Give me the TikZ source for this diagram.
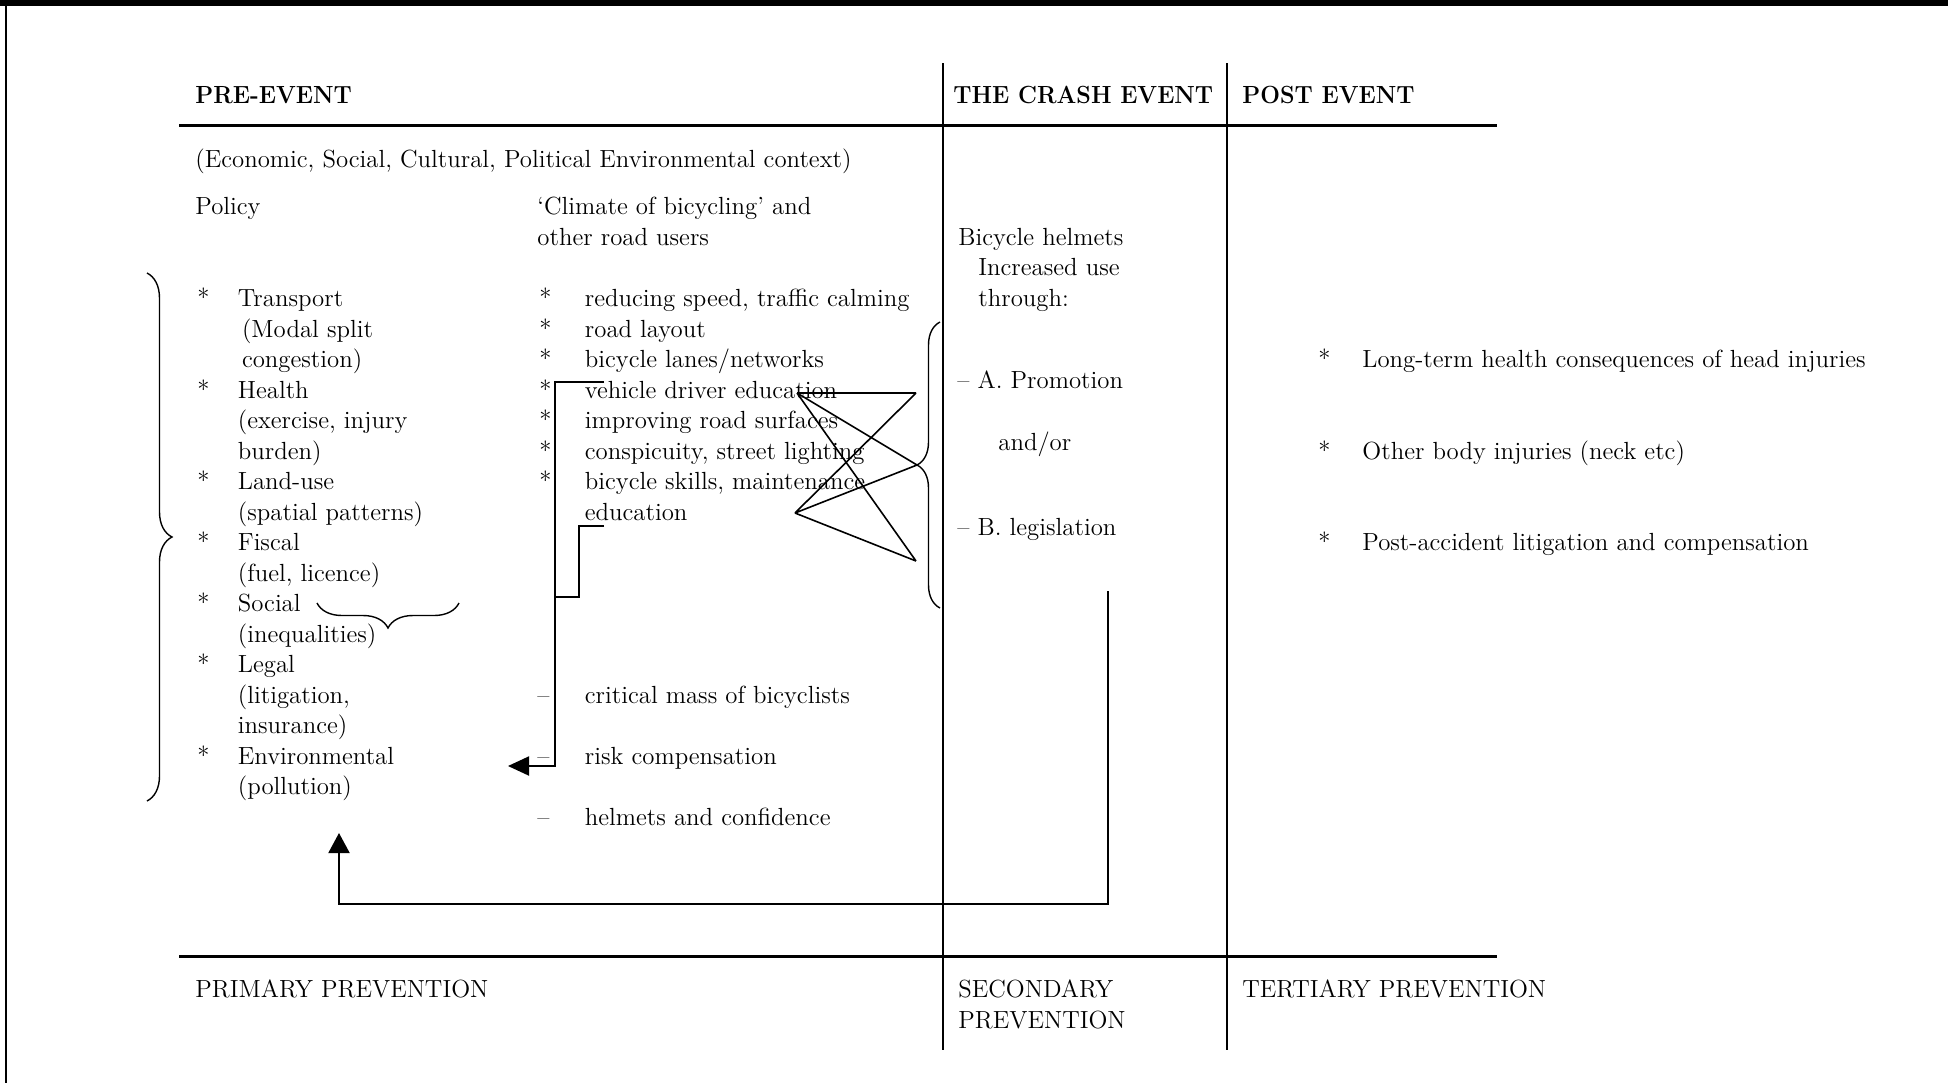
\documentclass[tikz,border=0pt]{standalone}
\usepackage{fontspec}
\usepackage{graphicx}
\usetikzlibrary{arrows.meta,decorations.pathreplacing}
\newcommand\myfont{\fontsize{12.4pt}{15.25pt}\selectfont}
\newcommand\myhdr[1]{\scalebox{0.94}[1]{\bfseries #1}}
\begin{document}
\begin{tikzpicture}[x=0.5pt,y=-0.5pt,
  txt/.style={anchor=base west,inner sep=0pt,font=\myfont},
  rulebold/.style={line width=1.5pt},
  colline/.style={line width=1pt},
  conn/.style={line width=1pt},
  xline/.style={line width=0.8pt},
  brc/.style={line width=0.7pt,decorate,decoration={brace,amplitude=#1}},
]
\useasboundingbox (0,0) rectangle (1948,1083);
% frame
\fill (0,0) rectangle (1948,5.5);
\draw[line width=0.8pt] (6,0) -- (6,1083);
% table rules
\coordinate (htl) at (179,125); \coordinate (htr) at (1497,125);
\coordinate (hbl) at (179,956); \coordinate (hbr) at (1497,956);
\coordinate (v1t) at (943,63);  \coordinate (v1b) at (943,1050);
\coordinate (v2t) at (1227,63); \coordinate (v2b) at (1227,1050);
\draw[rulebold] (htl) -- (htr);
\draw[rulebold] (hbl) -- (hbr);
\draw[colline] (v1t) -- (v1b);
\draw[colline] (v2t) -- (v2b);
% headers
\node[txt] (hpre) at (195,103.5) {\myhdr{PRE-EVENT}};
\node[txt] (hcrash) at (953,103.5) {\myhdr{THE CRASH EVENT}};
\node[txt] (hpost) at (1242,103.5) {\myhdr{POST EVENT}};
% pre-event
\node[txt] (context) at (195,167) {(Economic, Social, Cultural, Political Environmental context)};
\node[txt] (policy) at (195,214) {Policy};
\node[txt] (climA) at (537,214) {`Climate of bicycling' and};
\node[txt] (climB) at (537,245) {other road users};
% policy list
\foreach \t [count=\i from 0] in {{Transport},{\,(Modal split},{\,congestion)},{Health},{(exercise, injury},{burden)},{Land-use},{(spatial patterns)},{Fiscal},{(fuel, licence)},{Social},{(inequalities)},{Legal},{(litigation,},{insurance)},{Environmental},{(pollution)}}
  \node[txt] (pol\i) at (237.5,{306.5+30.5*\i}) {\t};
\foreach \i in {0,3,6,8,10,12,15}
  \node[txt] (past\i) at (197,{306.5+30.5*\i}) {*};
% climate list
\foreach \t [count=\i from 0] in {{reducing speed, traffic calming},{road layout},{bicycle lanes/networks},{vehicle driver education},{improving road surfaces},{conspicuity, street lighting},{bicycle skills, maintenance},{education}}
  \node[txt] (cl\i) at (584.5,{306.5+30.5*\i}) {\t};
\foreach \i in {0,...,6}
  \node[txt] (cast\i) at (539,{306.5+30.5*\i}) {*};
\node[txt] (crit) at (584.5,{306.5+30.5*13}) {critical mass of bicyclists};
\node[txt] (risk) at (584.5,{306.5+30.5*15}) {risk compensation};
\node[txt] (helm) at (584.5,{306.5+30.5*17}) {helmets and confidence};
\foreach \i in {13,15,17}
  \node[txt] (dash\i) at (537,{306.5+30.5*\i}) {--};
% crash event
\node[txt] (bh1) at (958,245) {Bicycle helmets};
\node[txt] (bh2) at (978,275.5) {Increased use};
\node[txt] (bh3) at (978,306.5) {through:};
\node[txt] (promo) at (957,388) {-- A. Promotion};
\node[txt] (andor) at (998,450) {and/or};
\node[txt] (legis) at (957,535) {-- B. legislation};
% post event
\node[txt] (po1) at (1362,367.5) {Long-term health consequences of head injuries};
\node[txt] (po2) at (1362,459) {Other body injuries (neck etc)};
\node[txt] (po3) at (1362,550.5) {Post-accident litigation and compensation};
\foreach \y [count=\i] in {367.5,459,550.5}
  \node[txt] (poast\i) at (1318,\y) {*};
% bottom labels
\node[txt] (prim) at (195,997) {PRIMARY PREVENTION};
\node[txt] (sec1) at (958,997) {SECONDARY};
\node[txt] (sec2) at (958,1028) {PREVENTION};
\node[txt] (tert) at (1242,997) {TERTIARY PREVENTION};
% braces
\coordinate (bigT) at (147,273); \coordinate (bigB) at (147,801);
\draw[brc=12.5pt] (bigT) -- (bigB);
\coordinate (socR) at (459,603); \coordinate (socL) at (317,603);
\draw[brc=12.5pt] (socR) -- (socL);
\coordinate (rbB) at (940,608); \coordinate (rbT) at (940,322);
\draw[brc=11.5pt] (rbB) -- (rbT);
% crossing lines
\coordinate (L1) at (797,393); \coordinate (L2) at (795,513);
\coordinate (R1) at (916,393); \coordinate (R2) at (917,465); \coordinate (R3) at (916,561);
\draw[xline] (L1) -- (R1) (L1) -- (R2) (L1) -- (R3)
             (L2) -- (R1) (L2) -- (R2) (L2) -- (R3);
% bracket and arrow to policy
\coordinate (b1) at (604,382); \coordinate (b2) at (604,526);
\coordinate (arrL) at (508,766);
\draw[conn,-{Triangle[length=10.5pt,width=9.5pt]}] (b1) -- (555,382) -- (555,766) -- (arrL);
\draw[conn] (b2) -- (579,526) -- (579,597) -- (555,597);
% feedback arrow
\coordinate (f0) at (1108,591); \coordinate (f1) at (339,833);
\draw[conn,-{Triangle[length=10pt,width=10.5pt]}] (f0) -- (1108,904) -- (339,904) -- (f1);
\end{tikzpicture}
\end{document}
